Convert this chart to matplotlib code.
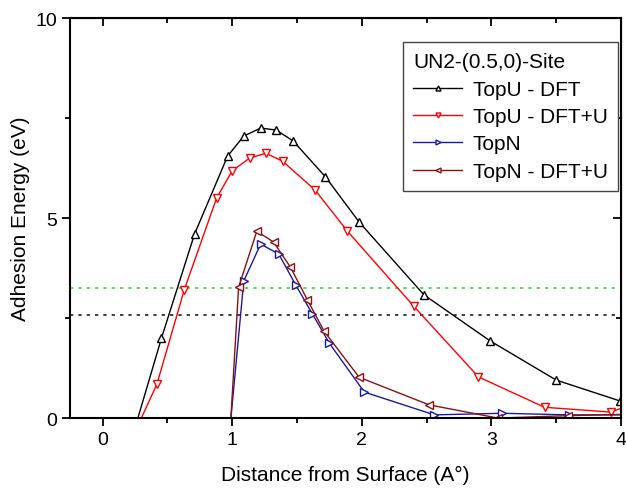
import matplotlib
matplotlib.use("Agg")
import matplotlib.pyplot as plt
from matplotlib.ticker import MultipleLocator

plt.rcParams['font.family'] = ['Liberation Sans', 'DejaVu Sans']

# TopU - DFT
x_topu = [0.2, 0.455, 0.71, 0.965, 1.09, 1.22, 1.34, 1.47, 1.72, 1.98, 2.48, 2.99, 3.5, 3.99]
y_topu = [-0.8, 2.0, 4.6, 6.55, 7.05, 7.25, 7.2, 6.93, 6.03, 4.9, 3.08, 1.93, 0.95, 0.43]
# TopU - DFT+U
x_topu_u = [0.2, 0.42, 0.63, 0.88, 1.0, 1.135, 1.26, 1.39, 1.64, 1.89, 2.4, 2.9, 3.41, 3.92, 4.05]
y_topu_u = [-0.7, 0.85, 3.2, 5.5, 6.18, 6.5, 6.62, 6.42, 5.7, 4.67, 2.8, 1.03, 0.27, 0.15, 0.3]
# TopN
x_topn = [0.95, 1.09, 1.22, 1.36, 1.49, 1.62, 1.75, 2.02, 2.56, 3.08, 3.6, 4.1]
y_topn = [-1.4, 3.43, 4.35, 4.1, 3.33, 2.6, 1.87, 0.65, 0.08, 0.12, 0.08, 0.08]
# TopN - DFT+U
x_topn_u = [0.95, 1.05, 1.19, 1.32, 1.45, 1.58, 1.71, 1.98, 2.52, 3.05, 3.59, 4.1]
y_topn_u = [-2.2, 3.27, 4.67, 4.4, 3.77, 2.96, 2.17, 1.02, 0.33, 0.0, 0.06, 0.1]

ref_green = 3.26
ref_black = 2.58

fig = plt.figure(figsize=(6.26, 4.89), dpi=100)
ax = fig.add_axes([0.112, 0.143, 0.88, 0.818])

ax.axhline(ref_green, color='#33dd33', ls=(0, (2, 3)), lw=1.2)
ax.axhline(ref_black, color='#222222', ls=(0, (2, 3)), lw=1.2)

ms = 6
ax.plot(x_topu, y_topu, color='black', lw=1, marker='^', ms=ms, mfc='white', label='TopU - DFT')
ax.plot(x_topu_u, y_topu_u, color='red', lw=1, marker='v', ms=ms, mfc='white', label='TopU - DFT+U')
ax.plot(x_topn, y_topn, color='#1a1aa0', lw=1, marker='>', ms=ms, mfc='white', label='TopN')
ax.plot(x_topn_u, y_topn_u, color='#8b1010', lw=1, marker='<', ms=ms, mfc='white', label='TopN - DFT+U')

ax.set_xlim(-0.25, 4)
ax.set_ylim(0, 10)
ax.xaxis.set_major_locator(MultipleLocator(1))
ax.xaxis.set_minor_locator(MultipleLocator(0.5))
ax.yaxis.set_major_locator(MultipleLocator(5))
ax.yaxis.set_minor_locator(MultipleLocator(2.5))
ax.tick_params(which='major', direction='out', length=6, width=1.3, labelsize=14)
ax.tick_params(which='minor', direction='out', length=3.5, width=1.3)
for s in ax.spines.values():
    s.set_linewidth(1.5)

top = ax.secondary_xaxis('top')
top.xaxis.set_major_locator(MultipleLocator(1))
top.xaxis.set_minor_locator(MultipleLocator(0.5))
top.tick_params(which='major', direction='in', length=6, width=1.3, labeltop=False)
top.tick_params(which='minor', direction='in', length=3.5, width=1.3)
right = ax.secondary_yaxis('right')
right.yaxis.set_major_locator(MultipleLocator(5))
right.yaxis.set_minor_locator(MultipleLocator(2.5))
right.tick_params(which='major', direction='in', length=6, width=1.3, labelright=False)
right.tick_params(which='minor', direction='in', length=3.5, width=1.3)

ax.set_xlabel('Distance from Surface (A°)', fontsize=15, labelpad=12)
ax.set_ylabel('Adhesion Energy (eV)', fontsize=15)

leg = ax.legend(title='UN2-(0.5,0)-Site', loc='upper right', bbox_to_anchor=(0.9946, 0.94),
                borderaxespad=0, fontsize=15, title_fontsize=15, handlelength=2.35, numpoints=1,
                fancybox=False, edgecolor='#444444', framealpha=1, markerscale=0.6,
                borderpad=0.5, labelspacing=0.4, handletextpad=0.5)
leg.get_frame().set_linewidth(1.0)
leg._legend_box.align = 'left'

fig.savefig('out.png', dpi=100)
